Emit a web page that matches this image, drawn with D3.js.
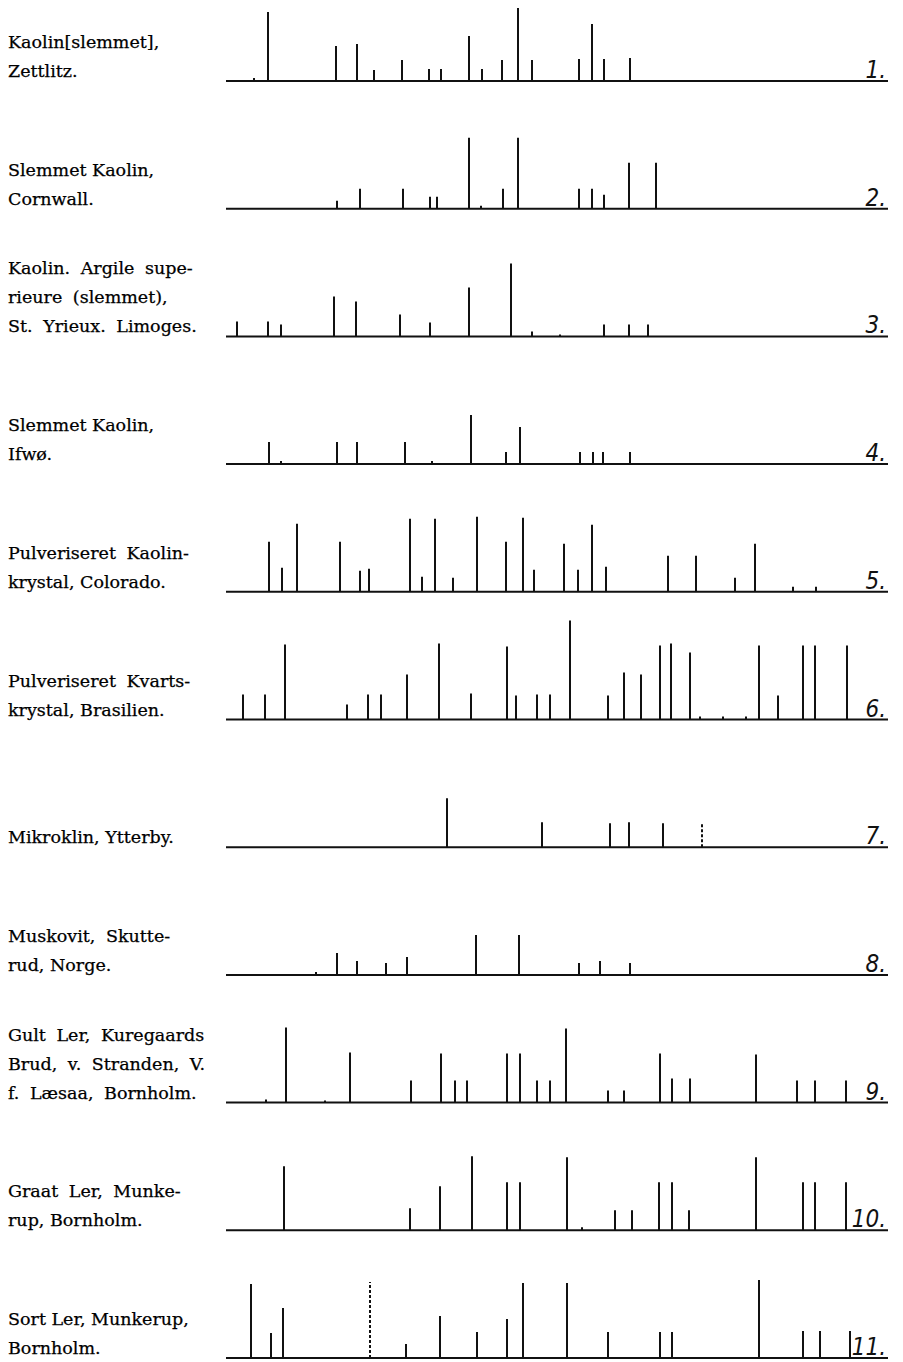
<!DOCTYPE html>
<html>
<head>
<meta charset="utf-8">
<script src="https://cdn.jsdelivr.net/npm/d3@7/dist/d3.min.js"></script>
<style>
  body { margin: 0; background: #fff; }
  .label { font-family: 'DejaVu Serif', serif; font-size: 17.5px; fill: #000; stroke: #000; stroke-width: 0.25px; }
  .num { font-family: 'Liberation Sans Narrow', 'DejaVu Sans Condensed', sans-serif; font-style: italic; font-size: 24px; fill: #111; }
</style>
</head>
<body>
<div id="chart"></div>
<script>
// one entry per sample strip, top to bottom
const rowLabels = [
  ['Kaolin[slemmet],', 'Zettlitz.'],
  ['Slemmet  Kaolin,', 'Cornwall.'],
  ['Kaolin. Argile supe-', 'rieure (slemmet),', 'St. Yrieux. Limoges.'],
  ['Slemmet  Kaolin,', 'Ifwø.'],
  ['Pulveriseret Kaolin-', 'krystal, Colorado.'],
  ['Pulveriseret Kvarts-', 'krystal, Brasilien.'],
  ['Mikroklin, Ytterby.'],
  ['Muskovit, Skutte-', 'rud, Norge.'],
  ['Gult Ler, Kuregaards', 'Brud, v. Stranden, V.', 'f. Læsaa, Bornholm.'],
  ['Graat Ler, Munke-', 'rup, Bornholm.'],
  ['Sort Ler, Munkerup,', 'Bornholm.'],
];

const rowNumbers = ['1.', '2.', '3.', '4.', '5.', '6.', '7.', '8.', '9.', '10.', '11.'];

// line positions along the strip (strip units, 0 = left end)
const linePositions = [
  [28, 42, 110, 131, 148, 176, 203, 215, 243, 256, 276, 292, 306, 353, 366, 378, 404],
  [111, 134, 177, 204, 211, 243, 255, 277, 292, 353, 366, 378, 403, 430],
  [11, 42, 55, 108, 130, 174, 204, 243, 285, 306, 334, 378, 403, 422],
  [43, 55, 111, 131, 179, 206, 245, 280, 294, 354, 367, 377, 404],
  [43, 56, 71, 114, 134, 143, 184, 196, 209, 227, 251, 280, 297, 308, 338, 352, 366, 380, 442, 470, 509, 529, 567, 590],
  [17, 39, 59, 121, 142, 155, 181, 213, 245, 281, 290, 311, 324, 344, 382, 398, 415, 434, 445, 464, 474, 497, 520, 533, 552, 577, 589, 621],
  [221, 316, 384, 403, 437, 476],
  [90, 111, 131, 160, 181, 250, 293, 353, 374, 404],
  [40, 60, 99, 124, 185, 215, 229, 241, 281, 294, 311, 324, 340, 382, 398, 434, 446, 464, 530, 571, 589, 620],
  [58, 184, 214, 246, 281, 294, 341, 356, 389, 406, 433, 446, 463, 530, 577, 589, 620],
  [25, 45, 57, 144, 180, 214, 251, 281, 297, 341, 382, 434, 446, 533, 577, 594, 624],
];

// relative line strength, same order as linePositions
const lineIntensities = [
  [3, 69, 35, 37, 11, 21, 12, 12, 45, 12, 21, 73, 21, 22, 57, 22, 23],
  [8, 20, 20, 12, 12, 71, 3, 20, 71, 20, 20, 14, 46, 46],
  [15, 15, 12, 40, 35, 22, 14, 49, 73, 5, 2, 12, 12, 12],
  [22, 3, 22, 22, 22, 3, 49, 12, 37, 12, 12, 12, 12],
  [50, 24, 68, 50, 21, 23, 73, 15, 73, 14, 75, 50, 74, 22, 48, 22, 67, 25, 36, 36, 14, 48, 5, 5],
  [25, 25, 75, 15, 25, 25, 45, 76, 26, 73, 24, 25, 25, 99, 24, 47, 45, 74, 76, 67, 3, 3, 3, 74, 24, 74, 74, 74],
  [49, 25, 24, 25, 24, 23],
  [3, 22, 14, 12, 18, 40, 40, 12, 14, 12],
  [3, 75, 2, 50, 22, 49, 22, 22, 49, 49, 22, 22, 74, 12, 12, 49, 24, 24, 48, 22, 22, 22],
  [64, 22, 44, 74, 48, 48, 73, 3, 20, 20, 48, 48, 20, 73, 48, 48, 48],
  [74, 25, 50, 76, 14, 42, 26, 39, 75, 75, 26, 26, 26, 78, 27, 27, 27],
];

// lines printed broken / dotted: [row, position]
const dottedLines = [[7, 476], [11, 144]];

const W = 903, H = 1362;
const TEXT_X = 8;
const MAX_GAP = 5;   // extra word space allowed when justifying

const svg = d3.select('#chart')
  .append('svg')
    .attr('width', W)
    .attr('height', H);

const x = d3.scaleLinear().domain([0, 662]).range([226, 888]);
const rowY = d3.scaleLinear().domain([1, 11]).range([81, 1358]);
const h = d3.scaleLinear().domain([0, 100]).range([0, 100]);

const rows = rowLabels.map((lab, i) => ({
  n: i + 1,
  label: lab,
  num: rowNumbers[i],
  peaks: linePositions[i].map((p, k) => ({
    pos: p,
    val: lineIntensities[i][k],
    dotted: dottedLines.some(d => d[0] === i + 1 && d[1] === p),
  })),
}));

const row = svg.selectAll('g.row')
  .data(rows)
  .join('g')
    .attr('class', 'row')
    .attr('transform', d => `translate(0,${rowY(d.n)})`);

// baseline
row.append('line')
  .attr('x1', x(0))
  .attr('x2', x(662))
  .attr('stroke', '#111')
  .attr('stroke-width', 2);

// spectral lines
row.selectAll('line.peak')
  .data(d => d.peaks)
  .join('line')
    .attr('class', 'peak')
    .attr('x1', d => x(d.pos))
    .attr('x2', d => x(d.pos))
    .attr('y1', 0)
    .attr('y2', d => -h(d.val))
    .attr('stroke', '#111')
    .attr('stroke-width', 2)
    .attr('stroke-dasharray', d => d.dotted ? '3,2' : null);

// loosely justified like the printed column
function rightEdge(lines, i) {
  if (lines.length === 3) return x(0) - 3;
  if (lines[i].endsWith('-')) return 215;
  return null;
}

row.each(function (d) {
  const n = d.label.length;
  d3.select(this).selectAll('text.label')
    .data(d.label)
    .join('text')
      .attr('class', 'label')
      .attr('x', TEXT_X)
      .attr('y', (t, i) => -4 - (n - 1 - i) * 29)
      .text(t => t)
      .each(function (t, i) {
          const target = rightEdge(d.label, i);
          const spaces = (t.match(/ /g) || []).length;
          if (target === null || spaces === 0) return;
          const len = this.getComputedTextLength();
          const extra = Math.min(MAX_GAP, (target - TEXT_X - len) / spaces);
          if (extra > 0) d3.select(this).attr('word-spacing', extra);
      });
});

row.append('text')
  .attr('class', 'num')
  .attr('x', x(662) - 2)
  .attr('y', -3)
  .attr('text-anchor', 'end')
  .text(d => d.num);
</script>
</body>
</html>
